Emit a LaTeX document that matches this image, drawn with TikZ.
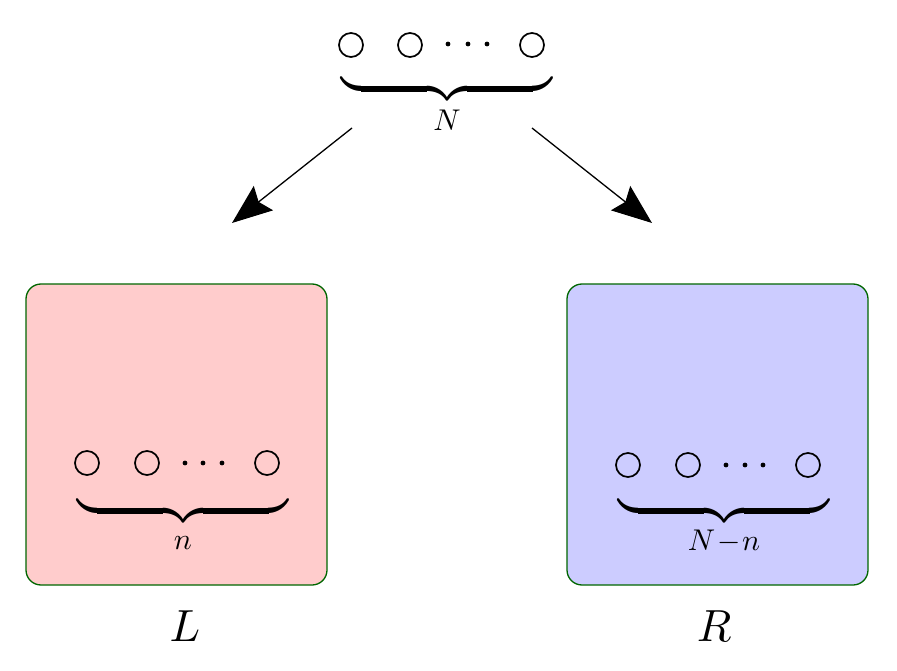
\documentclass[tikz,border=0pt]{standalone}
\usepackage{graphicx}
\usetikzlibrary{arrows.meta}
\tikzset{
  ball/.style={draw=black, line width=1.7pt},
  dotmark/.style={fill=black},
  boxL/.style={draw=green!40!black, fill=red!20, rounded corners=15pt, line width=1.3pt, minimum width=301pt, minimum height=301pt, inner sep=0pt},
  boxR/.style={draw=green!40!black, fill=blue!20, rounded corners=15pt, line width=1.3pt, minimum width=301pt, minimum height=301pt, inner sep=0pt},
  bracenode/.style={inner sep=0pt, anchor=north},
  sublabel/.style={inner sep=0pt},
  biglabel/.style={inner sep=0pt},
  arr/.style={line width=1.3pt, -{Stealth[length=40pt,width=31pt,inset=6pt]}}
}
\newcommand{\mybrace}{\scalebox{4.4}{$\underbrace{\hbox to 48pt{}}$}}
\newcommand{\sublab}[1]{\scalebox{3}{$#1$}}
\newcommand{\biglab}[1]{\scalebox{4.5}{$#1$}}
\begin{document}
\begin{tikzpicture}[x=1pt,y=-1pt]
\useasboundingbox (0,0) rectangle (897,671);
% boxes
\node[boxL] (L) at (176.5,434.5) {};
\node[boxR] (R) at (717.5,434.5) {};
% top group
\draw[ball] (351,45) circle (12);
\draw[ball] (410,45) circle (12);
\fill[dotmark] (448,44) circle (2.4);
\fill[dotmark] (468,44) circle (2.4);
\fill[dotmark] (487,44) circle (2.4);
\draw[ball] (532,45) circle (12);
\node[bracenode] (tb) at (447,73) {\mybrace};
\node[sublabel] (tN) at (447,120) {\sublab{N}};
% left group
\draw[ball] (87,463) circle (12);
\draw[ball] (147,463) circle (12);
\fill[dotmark] (185,463) circle (2.4);
\fill[dotmark] (203,463) circle (2.4);
\fill[dotmark] (222,463) circle (2.4);
\draw[ball] (267,463) circle (12);
\node[bracenode] (lb) at (183,495) {\mybrace};
\node[sublabel] (ln) at (183,543) {\sublab{n}};
% right group
\draw[ball] (628,465) circle (12);
\draw[ball] (688,465) circle (12);
\fill[dotmark] (726,465) circle (2.4);
\fill[dotmark] (745,465) circle (2.4);
\fill[dotmark] (763,465) circle (2.4);
\draw[ball] (808,465) circle (12);
\node[bracenode] (rb) at (724,495) {\mybrace};
\node[sublabel] (rn) at (724,541) {\sublab{N\!-\!n}};
% labels
\node[biglabel] (Ll) at (185,626) {\biglab{L}};
\node[biglabel] (Rl) at (714,626) {\biglab{R}};
% arrows
\coordinate (a1s) at (352,128);
\coordinate (a1e) at (232,223);
\coordinate (a2s) at (532,128);
\coordinate (a2e) at (652,223);
\draw[arr] (a1s) -- (a1e);
\draw[arr] (a2s) -- (a2e);
\end{tikzpicture}
\end{document}
